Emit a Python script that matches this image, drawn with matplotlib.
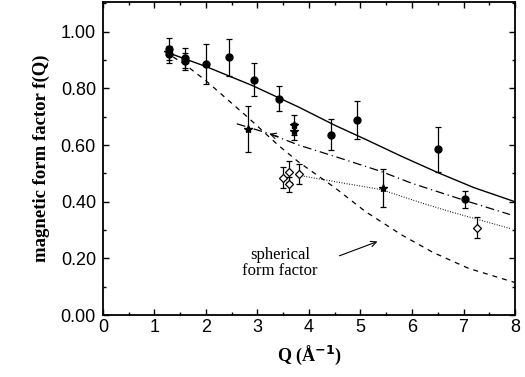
import matplotlib
matplotlib.use("Agg")
import matplotlib.pyplot as plt
from matplotlib.ticker import MultipleLocator, FormatStrFormatter

# measured form factor points (filled circles)
q_circ = [1.29, 1.29, 1.60, 1.60, 2.00, 2.45, 2.93, 3.41, 4.42, 4.94, 6.50, 7.02]
f_circ = [0.939, 0.921, 0.907, 0.895, 0.887, 0.909, 0.830, 0.764, 0.636, 0.689, 0.585, 0.409]
e_circ = [0.040, 0.030, 0.035, 0.030, 0.070, 0.065, 0.058, 0.045, 0.055, 0.068, 0.080, 0.030]

# stars
q_star = [2.82, 3.71, 3.71, 5.44]
f_star = [0.657, 0.672, 0.648, 0.448]
e_star = [0.080, 0.035, 0.030, 0.067]

# open diamonds
q_diam = [3.50, 3.62, 3.62, 3.81, 7.26]
f_diam = [0.485, 0.506, 0.462, 0.498, 0.309]
e_diam = [0.037, 0.038, 0.026, 0.036, 0.038]

# model curves
q_solid = [1.2, 2.0, 2.9, 3.8, 4.5, 5.1, 5.8, 6.5, 7.2, 8.0]
f_solid = [0.93, 0.877, 0.81, 0.734, 0.67, 0.62, 0.56, 0.503, 0.45, 0.40]

q_dash = [1.2, 1.6, 2.0, 2.8, 3.4, 3.8, 4.5, 5.1, 5.8, 6.4, 7.1, 8.0]
f_dash = [0.93, 0.883, 0.827, 0.70, 0.60, 0.54, 0.45, 0.365, 0.283, 0.222, 0.165, 0.115]

q_dashdot = [2.6, 3.2, 3.8, 4.5, 5.4, 6.0, 7.0, 7.9]
f_dashdot = [0.675, 0.642, 0.60, 0.56, 0.507, 0.465, 0.406, 0.355]

q_dot = [3.9, 4.6, 5.4, 6.2, 6.8, 7.9]
f_dot = [0.49, 0.468, 0.443, 0.395, 0.362, 0.306]

fig = plt.figure(figsize=(5.25, 3.77), dpi=100)
ax = fig.add_axes([0.196, 0.164, 0.785, 0.831])

ax.plot(q_solid, f_solid, color='black', lw=1.0, ls='-')
ax.plot(q_dash, f_dash, color='black', lw=0.9, ls=(0, (4, 4)))
ax.plot(q_dashdot, f_dashdot, color='black', lw=0.9, ls=(0, (7, 3, 1, 3)))
ax.plot(q_dot, f_dot, color='black', lw=0.8, ls=(0, (0.8, 1.5)))

eb = dict(ecolor='black', elinewidth=0.9, capsize=2, capthick=0.9, ls='none')
ax.errorbar(q_circ, f_circ, yerr=e_circ, fmt='o', ms=5, mfc='black', mec='black', **eb)
ax.errorbar(q_star, f_star, yerr=e_star, fmt='*', ms=6, mfc='black', mec='black', **eb)
ax.errorbar(q_diam, f_diam, yerr=e_diam, fmt='D', ms=4, mfc='white', mec='black', mew=0.9, **eb)

# small arrowhead on the dash-dot line
ax.annotate('', xy=(3.18, 0.643), xytext=(3.45, 0.627),
            arrowprops=dict(arrowstyle='->', color='black', lw=0.8))

ax.text(3.44, 0.185, 'spherical\nform factor', ha='center', va='center',
        family='Liberation Serif', fontsize=12, linespacing=1.0)
ax.annotate('', xy=(5.38, 0.263), xytext=(4.54, 0.206),
            arrowprops=dict(arrowstyle='->', color='black', lw=0.8))

ax.set_xlim(0, 8)
ax.set_ylim(0, 1.105)
ax.xaxis.set_major_locator(MultipleLocator(1))
ax.xaxis.set_minor_locator(MultipleLocator(0.5))
ax.yaxis.set_major_locator(MultipleLocator(0.2))
ax.yaxis.set_minor_locator(MultipleLocator(0.1))
ax.yaxis.set_major_formatter(FormatStrFormatter('%.2f'))
ax.tick_params(which='both', direction='in', top=True, right=True, width=1.0)
ax.tick_params(which='major', length=4, labelsize=13)
ax.tick_params(axis='x', which='major', pad=3)
ax.tick_params(axis='y', which='major', pad=5)
ax.tick_params(which='minor', length=2.5)
for lab in ax.get_xticklabels() + ax.get_yticklabels():
    lab.set_family('Liberation Sans')
for sp in ax.spines.values():
    sp.set_linewidth(1.3)

ax.set_xlabel('Q (Å$^{\\mathbf{-1}}$)', family='Liberation Serif', fontweight='bold',
              fontsize=13, labelpad=5)
ax.set_ylabel('magnetic form factor f(Q)', family='Liberation Serif', fontweight='bold',
              fontsize=13.5, labelpad=8)

fig.savefig('out.png', dpi=100)
